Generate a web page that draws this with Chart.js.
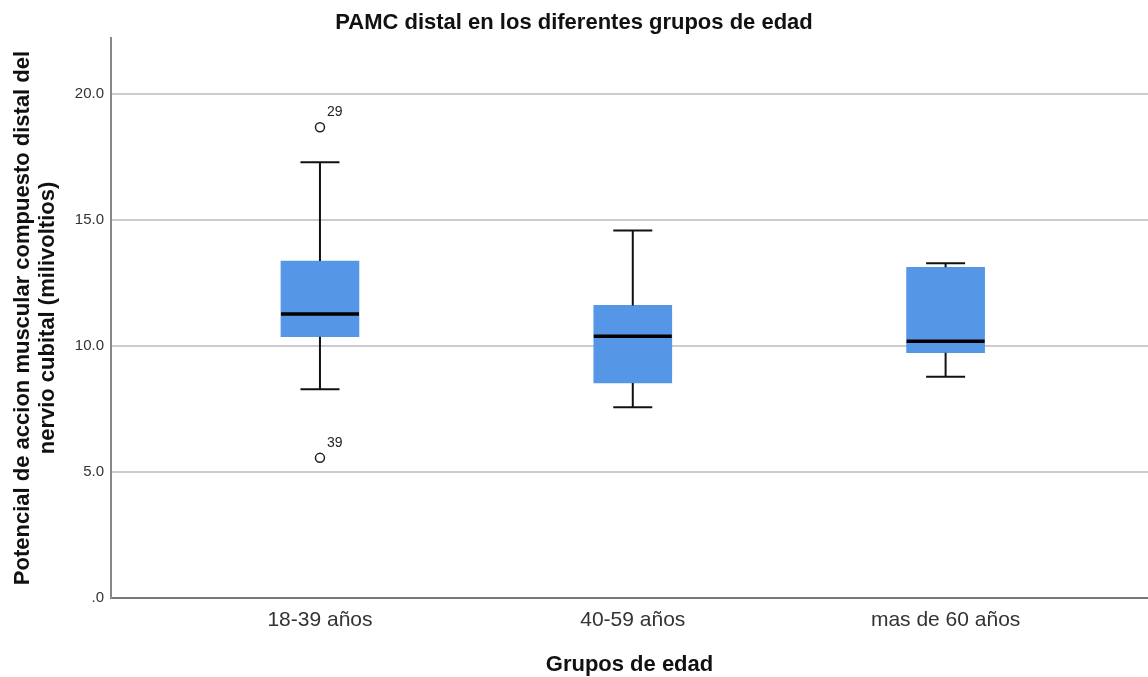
<!DOCTYPE html>
<html>
<head>
<meta charset="utf-8">
<script src="https://cdn.jsdelivr.net/npm/chart.js@4/dist/chart.umd.min.js"></script>
<style>
  body { margin: 0; background: #fff; }
  #wrap { width: 1148px; height: 677px; position: relative; }
</style>
</head>
<body>
<div id="wrap"><canvas id="boxChart"></canvas></div>
<script>
// datos
const groups = ['18-39 años', '40-59 años', 'mas de 60 años'];
const lowerWhisker = [8.28, 7.57, 8.78];
const q1 = [10.37, 8.53, 9.73];
const median = [11.27, 10.39, 10.19];
const q3 = [13.37, 11.61, 13.12];
const upperWhisker = [17.29, 14.58, 13.28];

const outlierGroup = [0, 0];
const outlierValues = [18.68, 5.56];
const outlierLabels = ['29', '39'];

const yTicks = [0, 5, 10, 15, 20];

// bigotes, mediana y etiquetas de atipicos
const boxExtras = {
    id: 'boxExtras',
    afterDatasetsDraw(chart) {
        const { ctx, scales: { x, y } } = chart;
        ctx.save();
        groups.forEach((g, i) => {
            const cx = x.getPixelForValue(i + 1);
            const half = 39;
            const cap = 19.5;
            ctx.strokeStyle = '#111';
            ctx.lineWidth = 2;
            ctx.beginPath();
            ctx.moveTo(cx, y.getPixelForValue(q3[i]));
            ctx.lineTo(cx, y.getPixelForValue(upperWhisker[i]));
            ctx.moveTo(cx - cap, y.getPixelForValue(upperWhisker[i]));
            ctx.lineTo(cx + cap, y.getPixelForValue(upperWhisker[i]));
            ctx.moveTo(cx, y.getPixelForValue(q1[i]));
            ctx.lineTo(cx, y.getPixelForValue(lowerWhisker[i]));
            ctx.moveTo(cx - cap, y.getPixelForValue(lowerWhisker[i]));
            ctx.lineTo(cx + cap, y.getPixelForValue(lowerWhisker[i]));
            ctx.stroke();
            ctx.lineWidth = 3.5;
            ctx.strokeStyle = '#000';
            ctx.beginPath();
            ctx.moveTo(cx - half, y.getPixelForValue(median[i]));
            ctx.lineTo(cx + half, y.getPixelForValue(median[i]));
            ctx.stroke();
        });
        const meta = chart.getDatasetMeta(1);
        ctx.fillStyle = '#222';
        ctx.font = '14px Arial, "Liberation Sans", sans-serif';
        ctx.textAlign = 'left';
        ctx.textBaseline = 'middle';
        meta.data.forEach((pt, i) => {
            ctx.fillText(outlierLabels[i], pt.x + 7, pt.y - 15);
        });
        ctx.restore();
    }
};

Chart.defaults.font.family = 'Arial, "Liberation Sans", sans-serif';

new Chart(document.getElementById('boxChart'), {
    type: 'bar',
    data: {
        datasets: [{
            label: 'caja',
            data: groups.map((g, i) => ({ x: i + 1, y: [q1[i], q3[i]] })),
            backgroundColor: '#5596e6',
            borderWidth: 0,
            barThickness: 78,
            grouped: false,
            order: 2
        }, {
            type: 'scatter',
            label: 'atipicos',
            data: outlierValues.map((v, i) => ({ x: outlierGroup[i] + 1, y: v })),
            pointRadius: 4.5,
            pointBackgroundColor: '#fff',
            pointBorderColor: '#222',
            pointBorderWidth: 1.5,
            order: 1
        }]
    },
    options: {
        responsive: true,
        maintainAspectRatio: false,
        animation: false,
        layout: { padding: 0, autoPadding: false },
        plugins: {
            legend: { display: false },
            tooltip: { enabled: false },
            title: {
                display: true,
                text: 'PAMC distal en los diferentes grupos de edad',
                color: '#111',
                font: { size: 22, weight: 'bold', lineHeight: 1.2 },
                padding: { top: 10, bottom: 1.6 }
            }
        },
        scales: {
            x: {
                type: 'linear',
                offset: false,
                min: 0.332,
                max: 3.647,
                grid: { display: false, drawTicks: false },
                border: { display: true, color: '#777', width: 2 },
                afterBuildTicks: s => { s.ticks = groups.map((g, i) => ({ value: i + 1 })); },
                afterFit: s => { s.height = 79; s.paddingLeft = 0; s.paddingRight = 0; },
                ticks: {
                    autoSkip: false,
                    maxRotation: 0,
                    padding: 10,
                    color: '#333',
                    font: { size: 21 },
                    callback: v => groups[v - 1]
                },
                title: {
                    display: true,
                    text: 'Grupos de edad',
                    color: '#111',
                    font: { size: 22, weight: 'bold', lineHeight: 1 },
                    padding: { top: 0, bottom: 1 }
                }
            },
            y: {
                min: 0,
                max: 22.22,
                grid: { color: '#cccccc', lineWidth: 2, drawTicks: false },
                border: { display: true, color: '#888', width: 2 },
                afterBuildTicks: s => { s.ticks = yTicks.map(v => ({ value: v })); },
                afterFit: s => { s.width = 111; },
                ticks: {
                    padding: 7,
                    color: '#333',
                    font: { size: 15 },
                    callback: v => v === 0 ? '.0' : v.toFixed(1)
                },
                title: {
                    display: true,
                    text: ['Potencial de accion muscular compuesto distal del', 'nervio cubital (milivoltios)'],
                    color: '#111',
                    font: { size: 22, weight: 'bold', lineHeight: 1.12 },
                    padding: { top: 11, bottom: 0 }
                }
            }
        }
    },
    plugins: [boxExtras]
});
</script>
</body>
</html>
